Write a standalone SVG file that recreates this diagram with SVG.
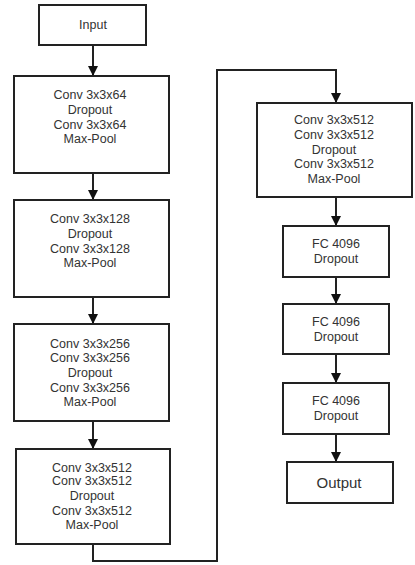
<svg xmlns="http://www.w3.org/2000/svg" width="415" height="565" viewBox="0 0 415 565">
<style>
.box{fill:#fff;stroke:#222;stroke-width:2}
text{font-family:"Liberation Sans",Arial,sans-serif;font-size:12.5px;fill:#333;text-anchor:middle}
.big{font-size:15px}
.c{fill:none;stroke:#222;stroke-width:2}
</style>
<defs>
<marker id="ah" markerWidth="10" markerHeight="10" refX="9" refY="5" orient="auto" markerUnits="userSpaceOnUse">
<path d="M0,0 L10,5 L0,10 z" fill="#111"/>
</marker>
</defs>
<rect width="415" height="565" fill="#fff"/>
<g id="connectors">
<line class="c" x1="93" y1="45" x2="93" y2="75" marker-end="url(#ah)"/>
<line class="c" x1="93" y1="173" x2="93" y2="199" marker-end="url(#ah)"/>
<line class="c" x1="93" y1="297" x2="93" y2="323" marker-end="url(#ah)"/>
<line class="c" x1="93" y1="421" x2="93" y2="448" marker-end="url(#ah)"/>
<polyline class="c" points="93,544 93,561 217,561 217,70 336,70 336,102" marker-end="url(#ah)"/>
<line class="c" x1="336" y1="197" x2="336" y2="225" marker-end="url(#ah)"/>
<line class="c" x1="336" y1="277" x2="336" y2="303" marker-end="url(#ah)"/>
<line class="c" x1="336" y1="354" x2="336" y2="382" marker-end="url(#ah)"/>
<line class="c" x1="336" y1="434" x2="336" y2="461" marker-end="url(#ah)"/>
</g>
<g id="input">
<rect class="box" x="39" y="5" width="107" height="40"/>
<text x="93" y="29">Input</text>
</g>
<g id="block1">
<rect class="box" x="14" y="76" width="155" height="97"/>
<text x="90" y="98.5">Conv 3x3x64</text>
<text x="90" y="113.5">Dropout</text>
<text x="90" y="128.5">Conv 3x3x64</text>
<text x="90" y="142.5">Max-Pool</text>
</g>
<g id="block2">
<rect class="box" x="14" y="200" width="155" height="97"/>
<text x="90" y="222.5">Conv 3x3x128</text>
<text x="90" y="237.5">Dropout</text>
<text x="90" y="252.5">Conv 3x3x128</text>
<text x="90" y="266.5">Max-Pool</text>
</g>
<g id="block3">
<rect class="box" x="14" y="324" width="155" height="97"/>
<text x="90" y="347.5">Conv 3x3x256</text>
<text x="90" y="361.5">Conv 3x3x256</text>
<text x="90" y="376.5">Dropout</text>
<text x="90" y="391.5">Conv 3x3x256</text>
<text x="90" y="405.5">Max-Pool</text>
</g>
<g id="block4">
<rect class="box" x="16" y="449" width="154" height="95"/>
<text x="92" y="471.5">Conv 3x3x512</text>
<text x="92" y="485">Conv 3x3x512</text>
<text x="92" y="499.5">Dropout</text>
<text x="92" y="514.5">Conv 3x3x512</text>
<text x="92" y="528.5">Max-Pool</text>
</g>
<g id="block5">
<rect class="box" x="257" y="103" width="155" height="94"/>
<text x="334" y="123.5">Conv 3x3x512</text>
<text x="334" y="138.5">Conv 3x3x512</text>
<text x="334" y="153.5">Dropout</text>
<text x="334" y="167.5">Conv 3x3x512</text>
<text x="334" y="182.5">Max-Pool</text>
</g>
<g id="fc1">
<rect class="box" x="283" y="226" width="106" height="51"/>
<text x="336" y="247.5">FC 4096</text>
<text x="336" y="262.5">Dropout</text>
</g>
<g id="fc2">
<rect class="box" x="283" y="304" width="106" height="50"/>
<text x="336" y="325.5">FC 4096</text>
<text x="336" y="340.5">Dropout</text>
</g>
<g id="fc3">
<rect class="box" x="283" y="383" width="106" height="51"/>
<text x="336" y="404.5">FC 4096</text>
<text x="336" y="420">Dropout</text>
</g>
<g id="output">
<rect class="box" x="287" y="462" width="106" height="41"/>
<text class="big" x="339" y="487.5">Output</text>
</g>
</svg>
